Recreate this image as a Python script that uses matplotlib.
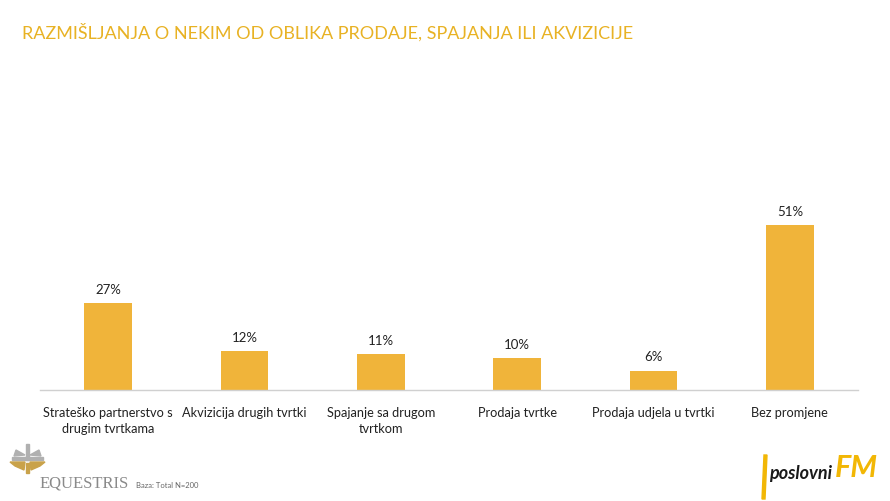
import matplotlib
matplotlib.use("Agg")
import matplotlib.pyplot as plt
from matplotlib.patches import Rectangle, Polygon

plt.rcParams['font.family'] = ['Lato', 'DejaVu Sans']

# podaci
categories = ["Strateško partnerstvo s\ndrugim tvrtkama", "Akvizicija drugih tvrtki",
              "Spajanje sa drugom\ntvrtkom", "Prodaja tvrtke",
              "Prodaja udjela u tvrtki", "Bez promjene"]
values = [27, 12, 11, 10, 6, 51]

bar_color = "#F0B43A"
title_color = "#E8B224"

fig = plt.figure(figsize=(8.9, 5.01), dpi=100)
ax = fig.add_axes([40/890, 111/501, 818/890, 194/501])

x = range(len(categories))
ax.bar(x, values, width=0.35, color=bar_color)
for i, v in zip(x, values):
    ax.text(i, v + 2.2, f"{v}%", ha='center', va='bottom', fontsize=9.5, color='#222222')

ax.set_xlim(-0.5, len(categories) - 0.5)
ax.set_ylim(0, 60)
ax.set_xticks(list(x))
ax.set_xticklabels(categories, fontsize=9.2, color='#222222', linespacing=1.45)
ax.tick_params(axis='x', length=0, pad=12)
ax.set_yticks([])
for s in ['top', 'left', 'right']:
    ax.spines[s].set_visible(False)
ax.spines['bottom'].set_color('#d0d0d0')
ax.spines['bottom'].set_linewidth(1)

# naslov
fig.text(22/890, 1 - 32/501, "RAZMIŠLJANJA O NEKIM OD OBLIKA PRODAJE, SPAJANJA ILI AKVIZICIJE",
         fontsize=13, color=title_color, va='center', ha='left')

# Equestris logo (pojednostavljeno)
lax = fig.add_axes([0, 0, 1, 1], facecolor='none')
lax.set_xlim(0, 890)
lax.set_ylim(501, 0)
lax.axis('off')
gray = "#b0b0b0"
gold = "#c9a24a"
lax.add_patch(Rectangle((26, 444), 3, 16, color=gray))
lax.add_patch(Rectangle((26, 463), 3, 10, color=gold))
lax.add_patch(Rectangle((12, 457), 31, 3, color=gray))
lax.add_patch(Polygon([(10, 462), (25, 462), (24, 470), (15, 466)], color=gold))
lax.add_patch(Polygon([(30, 462), (45, 462), (40, 466), (31, 470)], color=gold))
lax.add_patch(Polygon([(16, 450), (25, 455), (14, 456)], color=gray))
lax.add_patch(Polygon([(39, 450), (30, 455), (41, 456)], color=gray))
lax.text(40, 483, "EQUESTRIS", fontsize=12, color='#8a8a8a', family='Liberation Serif',
         va='center', ha='left')
lax.text(136, 485, "Baza: Total N=200", fontsize=5.5, color='#666666', va='center', ha='left')

# poslovniFM logo (pojednostavljeno)
lax.add_patch(Polygon([(764, 455), (767, 455), (765, 499), (762, 499)], color='#F2B705'))
lax.text(769, 473, "poslovni", fontsize=13, fontweight='bold', style='italic',
         color='#1a1a1a', va='center', ha='left')
lax.text(835, 468, "FM", fontsize=22, fontweight='bold', style='italic',
         color='#F2B705', va='center', ha='left')

fig.savefig("out.png", dpi=100, facecolor='white')
